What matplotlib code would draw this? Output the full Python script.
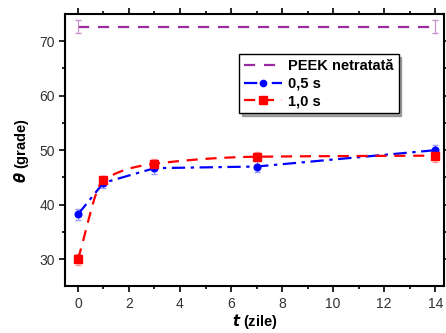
import numpy as np
import matplotlib.pyplot as plt

plt.rcParams['font.family'] = ['Liberation Sans', 'DejaVu Sans']

days = [0, 1, 3, 7, 14]
peek_x = [0, 14]
peek_y = [72.7, 72.7]
peek_err = [1.2, 1.2]
s05 = [38.2, 44.0, 46.7, 47.0, 50.0]
s05_err = [1.0, 1.0, 1.0, 1.0, 1.0]
s10 = [30.0, 44.5, 47.5, 48.8, 49.0]
s10_err = [1.0, 0.8, 0.9, 0.8, 1.2]


def pchip(x, y, xs):
    # monotone cubic through the data (smooth line like Origin's spline)
    x = np.asarray(x, float)
    y = np.asarray(y, float)
    h = np.diff(x)
    d = np.diff(y) / h
    m = np.zeros_like(y)
    m[0], m[-1] = d[0], d[-1]
    for k in range(1, len(x) - 1):
        if d[k - 1] * d[k] > 0:
            w1 = 2 * h[k] + h[k - 1]
            w2 = h[k] + 2 * h[k - 1]
            m[k] = (w1 + w2) / (w1 / d[k - 1] + w2 / d[k])
    out = []
    for v in xs:
        k = min(np.searchsorted(x, v, side='right') - 1, len(x) - 2)
        t = (v - x[k]) / h[k]
        h00 = 2 * t**3 - 3 * t**2 + 1
        h10 = t**3 - 2 * t**2 + t
        h01 = -2 * t**3 + 3 * t**2
        h11 = t**3 - t**2
        out.append(h00 * y[k] + h10 * h[k] * m[k] + h01 * y[k + 1] + h11 * h[k] * m[k + 1])
    return np.array(out)


fig = plt.figure(figsize=(4.46, 3.33), dpi=100)
ax = fig.add_axes([0.146, 0.14, 0.85, 0.818])

purple = '#9a2ba0'
ax.plot(peek_x, peek_y, '--', color=purple, lw=1.6, dashes=(5, 4), label='PEEK netratată')
ax.errorbar(peek_x, peek_y, yerr=peek_err, fmt='none', ecolor='#c88fcc', elinewidth=0.8, capsize=2.5)

xs = np.linspace(0, 14, 300)
ax.errorbar(days, s05, yerr=s05_err, fmt='none', ecolor='#9999ff', elinewidth=0.8, capsize=2.5)
ax.errorbar(days, s10, yerr=s10_err, fmt='none', ecolor='#ff9999', elinewidth=0.8, capsize=2.5)
ax.plot(days, s05, color='blue', lw=1.6, dashes=(6, 2.5, 1.5, 2.5))
ax.plot(xs, pchip(days, s10, xs), color='red', lw=1.6, dashes=(5, 3.5))
ax.plot(days, s05, 'o', color='blue', ms=4.8)
ax.plot(days, s10, 's', color='red', ms=5.5)

# legend proxies
ax.plot([], [], color='blue', lw=1.6, dashes=(6, 2.5, 1.5, 2.5), marker='o', ms=4.5, label='0,5 s')
ax.plot([], [], color='red', lw=1.6, dashes=(5, 3.5), marker='s', ms=5.5, label='1,0 s')
h, l = ax.get_legend_handles_labels()
leg = ax.legend(h, l, loc='upper left', bbox_to_anchor=(0.44, 0.88), frameon=True, fancybox=False,
                shadow={'color': '#555555'}, prop={'weight': 'bold', 'size': 10.5},
                handlelength=2.6, borderpad=0.35, labelspacing=0.25, handletextpad=0.4)
leg.get_frame().set_edgecolor('black')
leg.get_frame().set_linewidth(1.0)

ax.set_xlim(-0.5, 14.35)
ax.set_ylim(25, 75)
ax.set_xticks([0, 2, 4, 6, 8, 10, 12, 14])
ax.set_xticks(np.arange(1, 14, 2), minor=True)
ax.set_yticks([30, 40, 50, 60, 70])
ax.set_yticks([35, 45, 55, 65], minor=True)
ax.tick_params(which='both', top=True, right=True, labelsize=10, labelcolor='#333333', width=1.2)
ax.tick_params(which='major', length=4)
ax.tick_params(which='minor', length=2.5)
for s in ax.spines.values():
    s.set_linewidth(1.5)

ax.set_xlabel(r'$\boldsymbol{t}$ (zile)', fontsize=10.5, fontweight='bold', labelpad=1)
ax.set_ylabel(r'$\boldsymbol{\theta}$ (grade)', fontsize=10.5, fontweight='bold', labelpad=6)

fig.savefig('out.png', dpi=100)
